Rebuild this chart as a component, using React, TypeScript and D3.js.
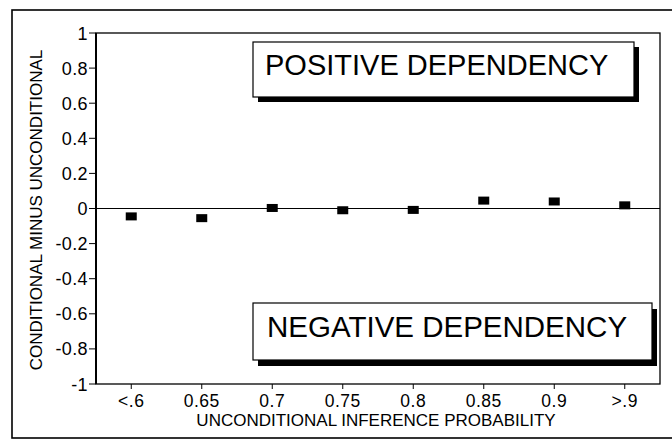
import React from "react";
import * as d3 from "d3";

const categories = ["<.6", "0.65", "0.7", "0.75", "0.8", "0.85", "0.9", ">.9"];
const differences = [-0.045, -0.055, 0.003, -0.01, -0.008, 0.045, 0.04, 0.018];
const yTickValues = [-1, -0.8, -0.6, -0.4, -0.2, 0, 0.2, 0.4, 0.6, 0.8, 1];
const yTickLabels = ["-1", "-0.8", "-0.6", "-0.4", "-0.2", "0", "0.2", "0.4", "0.6", "0.8", "1"];
const xTitle = "UNCONDITIONAL INFERENCE PROBABILITY";
const yTitle = "CONDITIONAL MINUS UNCONDITIONAL";
const boxLabels = ["POSITIVE DEPENDENCY", "NEGATIVE DEPENDENCY"];

const W = 672;
const H = 439;
const FONT = "'Liberation Sans', Arial, Helvetica, sans-serif";

export default function App() {
  const left = 96, right = 660, top = 33, bottom = 384;
  const x = d3.scaleBand<string>().domain(categories).range([left, right]);
  const y = d3.scaleLinear().domain([-1, 1]).range([bottom, top]);
  const mw = 11, mh = 8;

  return (
    <svg width={W} height={H} style={{ position: "absolute", left: 0, top: 0, background: "#fff" }}>
      <rect x={0} y={0} width={W} height={H} fill="#fff" />
      {/* outer frame */}
      <rect x={12} y={10} width={700} height={428} fill="none" stroke="#000" strokeWidth={1.6} />

      {/* plot frame */}
      <rect x={left} y={top} width={right - left} height={bottom - top} fill="none" stroke="#000" strokeWidth={1.3} />
      <line x1={left} x2={left} y1={top} y2={bottom} stroke="#000" strokeWidth={2} />

      {/* zero line */}
      <line x1={left} x2={right} y1={y(0)} y2={y(0)} stroke="#000" strokeWidth={1} />

      {/* y ticks */}
      {yTickValues.map((v, i) => (
        <g key={"yt" + i}>
          <line x1={left - 7} x2={left} y1={y(v)} y2={y(v)} stroke="#000" strokeWidth={1} />
          <text x={left - 8} y={y(v) + 6.5} textAnchor="end" fontFamily={FONT} fontSize={18} letterSpacing={0.4} fill="#000">
            {yTickLabels[i]}
          </text>
        </g>
      ))}

      {/* x ticks */}
      {categories.map((c) => {
        const cx = (x(c) as number) + x.bandwidth() / 2;
        return (
          <g key={"xt" + c}>
            <line x1={cx} x2={cx} y1={bottom} y2={bottom + 5} stroke="#000" strokeWidth={1} />
            <text x={cx} y={407} textAnchor="middle" fontFamily={FONT} fontSize={17.5} letterSpacing={0.5} fill="#000">
              {c}
            </text>
          </g>
        );
      })}

      {/* markers */}
      {categories.map((c, i) => {
        const cx = (x(c) as number) + x.bandwidth() / 2;
        return <rect key={"m" + c} x={cx - mw / 2} y={y(differences[i]) - mh / 2} width={mw} height={mh} fill="#000" />;
      })}

      {/* axis titles */}
      <text x={(left + right) / 2 - 2} y={426} textAnchor="middle" fontFamily={FONT} fontSize={17} fill="#000">
        {xTitle}
      </text>
      <text transform="translate(42,210) rotate(-90)" textAnchor="middle" fontFamily={FONT} fontSize={17} fill="#000">
        {yTitle}
      </text>

      {/* positive box */}
      <rect x={258} y={47} width={381} height={55} fill="#000" />
      <rect x={253} y={42} width={381} height={55} fill="#fff" stroke="#000" strokeWidth={1.2} />
      <text x={265} y={75} fontFamily={FONT} fontSize={29} fill="#000">{boxLabels[0]}</text>

      {/* negative box */}
      <rect x={258} y={309} width={399} height={57} fill="#000" />
      <rect x={253} y={303} width={399} height={57} fill="#fff" stroke="#000" strokeWidth={1.2} />
      <text x={267} y={337} fontFamily={FONT} fontSize={29.5} fill="#000">{boxLabels[1]}</text>
    </svg>
  );
}
